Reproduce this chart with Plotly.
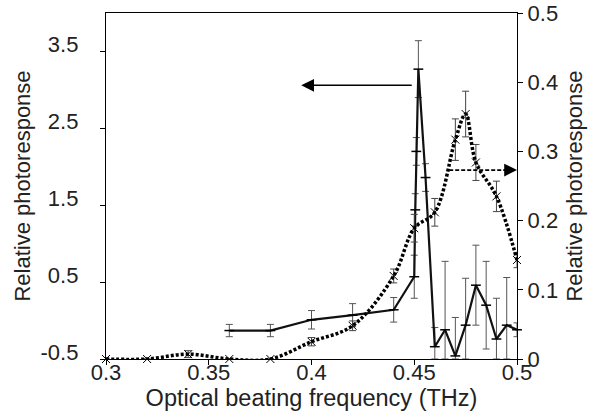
import plotly.graph_objects as go

# ---------------- data ----------------
# Solid series (left axis): relative photoresponse
solid_x = [0.36, 0.38, 0.40, 0.42, 0.44, 0.45, 0.4505, 0.451, 0.452, 0.4555,
           0.46, 0.465, 0.47, 0.475, 0.48, 0.485, 0.49, 0.495, 0.50]
solid_y = [-0.13, -0.13, 0.01, 0.07, 0.14, 0.57, 1.44, 2.2, 3.27, 1.86,
           -0.34, -0.12, -0.46, -0.06, 0.46, 0.20, -0.24, -0.06, -0.12]
solid_err = [0.08, 0.08, 0.12, 0.15, 0.16, 0.28, 0.21, 0.18, 0.37, 0.18,
             0.25, 0.89, 0.50, 0.61, 0.52, 0.57, 0.53, 0.62, 0.09]

# Dotted series (right axis)
dot_x = [0.30, 0.32, 0.34, 0.36, 0.38, 0.40, 0.42, 0.44, 0.45, 0.46,
         0.47, 0.475, 0.48, 0.49, 0.50]
dot_y = [0.0, 0.0, 0.007, 0.0, 0.0, 0.025, 0.048, 0.12, 0.189, 0.212,
         0.317, 0.354, 0.284, 0.235, 0.143]
dot_err = [0.0, 0.0, 0.005, 0.0, 0.0, 0.006, 0.007, 0.01, 0.02, 0.02,
           0.03, 0.033, 0.026, 0.022, 0.011]

x_ticks = [0.3, 0.35, 0.4, 0.45, 0.5]
x_ticklabels = ["0.3", "0.35", "0.4", "0.45", "0.5"]
y_ticks = [-0.5, 0.5, 1.5, 2.5, 3.5]
y_ticklabels = ["-0.5", "0.5", "1.5", "2.5", "3.5"]
y2_ticks = [0, 0.1, 0.2, 0.3, 0.4, 0.5]
y2_ticklabels = ["0", "0.1", "0.2", "0.3", "0.4", "0.5"]

X_RANGE = [0.3, 0.5]
Y_RANGE = [-0.5, 4.0]
Y2_RANGE = [0, 0.5]

# error bars cut at the axis floor
solid_err_minus = [min(e, y - Y_RANGE[0]) for y, e in zip(solid_y, solid_err)]
dot_err_minus = [min(e, y - Y2_RANGE[0]) for y, e in zip(dot_y, dot_err)]

FONT = "Liberation Sans, Arial, Helvetica, sans-serif"

fig = go.Figure()

fig.add_trace(go.Scatter(
    x=dot_x, y=dot_y, yaxis="y2", mode="lines+markers",
    line=dict(color="black", width=3.5, dash="3px,2px", shape="spline", smoothing=1),
    marker=dict(symbol="x-thin", size=8, color="black", line=dict(width=1, color="black")),
    error_y=dict(type="data", array=dot_err, arrayminus=dot_err_minus,
                 color="#444", thickness=1, width=3.5),
    cliponaxis=False, showlegend=False,
))

fig.add_trace(go.Scatter(
    x=solid_x, y=solid_y, mode="lines+markers",
    line=dict(color="#111", width=2.2),
    marker=dict(symbol="line-ew", size=7, color="black", line=dict(width=1.5, color="black")),
    error_y=dict(type="data", array=solid_err, arrayminus=solid_err_minus,
                 color="#555", thickness=1, width=3.5),
    cliponaxis=False, showlegend=False,
))

# arrows pointing to each series' axis
LEFT_ARROW = dict(x_from=0.4495, x_to=0.395, y=3.06)
RIGHT_ARROW = dict(x_from=0.467, x_to=0.5, y=0.273)

fig.add_annotation(x=LEFT_ARROW["x_to"], y=LEFT_ARROW["y"], ax=LEFT_ARROW["x_from"], ay=LEFT_ARROW["y"],
                   xref="x", yref="y", axref="x", ayref="y", text="", showarrow=True,
                   arrowhead=2, arrowsize=1.6, arrowwidth=1.6, arrowcolor="black")
fig.add_shape(type="line", xref="x", yref="y2",
              x0=RIGHT_ARROW["x_from"], x1=RIGHT_ARROW["x_to"] - 0.005,
              y0=RIGHT_ARROW["y"], y1=RIGHT_ARROW["y"],
              line=dict(color="black", width=1.6, dash="4px,2px"))
fig.add_annotation(x=RIGHT_ARROW["x_to"], y=RIGHT_ARROW["y"], ax=-14, ay=0,
                   xref="x", yref="y2", text="", showarrow=True,
                   arrowhead=2, arrowsize=1.6, arrowwidth=1.6, arrowcolor="black")

axis_common = dict(showgrid=False, zeroline=False, showline=True, linecolor="black", linewidth=1.3,
                   ticks="outside", ticklen=5, tickwidth=1.3, tickcolor="black", automargin=False,
                   tickfont=dict(family=FONT, size=22, color="#222"))

fig.update_layout(
    width=592, height=416,
    margin=dict(l=106, r=75, t=13, b=57),
    paper_bgcolor="white", plot_bgcolor="white",
    xaxis=dict(range=X_RANGE, tickvals=x_ticks, ticktext=x_ticklabels, mirror=True,
               ticklabelstandoff=-12,
               title=dict(text="Optical beating frequency (THz)", font=dict(family=FONT, size=23.5, color="#222"),
                          standoff=0),
               **axis_common),
    yaxis=dict(range=Y_RANGE, tickvals=y_ticks, ticktext=y_ticklabels,
               ticklabelstandoff=17, ticklabelshift=-7,
               title=dict(text="Relative photoresponse", font=dict(family=FONT, size=22, color="#222"),
                          standoff=3),
               **axis_common),
    yaxis2=dict(range=Y2_RANGE, tickvals=y2_ticks, ticktext=y2_ticklabels, overlaying="y", side="right",
                title=dict(text="Relative photoresponse", font=dict(family=FONT, size=22, color="#222"),
                           standoff=9),
                **axis_common),
)

fig.write_html("out.html", post_script="document.body.style.margin='0';",
               config={"displayModeBar": False})
